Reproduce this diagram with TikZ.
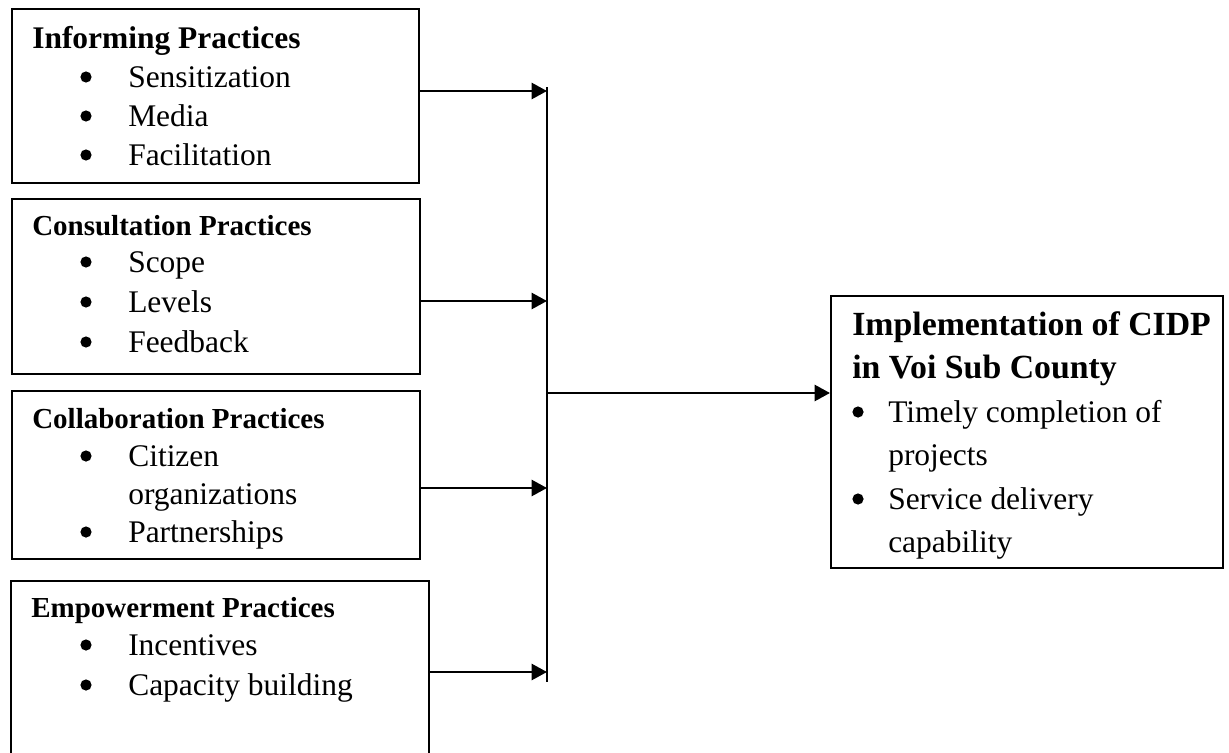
\documentclass[tikz,border=0pt]{standalone}
\usepackage{fontspec}
\setmainfont{Liberation Serif}
\usetikzlibrary{arrows.meta}
\begin{document}
\begin{tikzpicture}[x=0.75pt,y=-0.75pt,
  box/.style={draw,line width=1.5pt,rectangle,anchor=north west,inner sep=0pt},
  ttl/.style={anchor=base west,inner sep=0pt,font=\fontsize{21.75}{26}\selectfont\bfseries},
  bigttl/.style={anchor=base west,inner sep=0pt,font=\fontsize{23.6}{28}\selectfont\bfseries},
  itm/.style={anchor=base west,inner sep=0pt,font=\fontsize{23.6}{28}\selectfont},
  rttl/.style={anchor=base west,inner sep=0pt,font=\fontsize{25.35}{30}\selectfont\bfseries},
  dot/.style={circle,fill,inner sep=0pt,minimum size=8.4pt},
  conn/.style={line width=1.9pt,-{Triangle[length=11.5pt,width=12pt]}},
  bus/.style={line width=1.1pt}]
\useasboundingbox (0,0) rectangle (1229,753);
\fill[white] (0,0) rectangle (1229,753);
\begin{scope}
\clip (0,0) rectangle (1229,753);
% boxes
\node[box,minimum width=305.25pt,minimum height=130.5pt] (box1) at (11,8) {};
\node[box,minimum width=306pt,minimum height=131.25pt] (box2) at (11,198) {};
\node[box,minimum width=306pt,minimum height=126pt] (box3) at (11,390) {};
\node[box,minimum width=313.5pt,minimum height=150pt] (box4) at (10,580) {};
\node[box,minimum width=294pt,minimum height=204pt] (out) at (830,295) {};
% box 1
\node[bigttl] (t1) at (32,48) {Informing Practices};
\node[dot] (d11) at (86,77) {};
\node[itm] (i11) at (128,87) {Sensitization};
\node[dot] (d12) at (86,116) {};
\node[itm] (i12) at (128,126) {Media};
\node[dot] (d13) at (86,155) {};
\node[itm] (i13) at (128,165) {Facilitation};
% box 2
\node[ttl] (t2) at (32,235) {Consultation Practices};
\node[dot] (d21) at (86,262) {};
\node[itm] (i21) at (128,272) {Scope};
\node[dot] (d22) at (86,302) {};
\node[itm] (i22) at (128,312) {Levels};
\node[dot] (d23) at (86,342) {};
\node[itm] (i23) at (128,352) {Feedback};
% box 3
\node[ttl] (t3) at (32,428) {Collaboration Practices};
\node[dot] (d31) at (86,456) {};
\node[itm] (i31) at (128,466) {Citizen};
\node[itm] (i32) at (128,504) {organizations};
\node[dot] (d33) at (86,532) {};
\node[itm] (i33) at (128,542) {Partnerships};
% box 4
\node[ttl] (t4) at (31,617) {Empowerment Practices};
\node[dot] (d41) at (86,645) {};
\node[itm] (i41) at (128,655) {Incentives};
\node[dot] (d42) at (86,685) {};
\node[itm] (i42) at (128,695) {Capacity building};
% output box
\node[rttl] (o1) at (852,335) {Implementation of CIDP};
\node[rttl] (o2) at (852,378) {in Voi Sub County};
\node[dot] (od1) at (858,412) {};
\node[itm] (o3) at (888,422) {Timely completion of};
\node[itm] (o4) at (888,465) {projects};
\node[dot] (od2) at (858,499) {};
\node[itm] (o5) at (888,509) {Service delivery};
\node[itm] (o6) at (888,552) {capability};
% connectors
\coordinate (bustop) at (547,87);
\coordinate (busbot) at (547,682);
\coordinate (j1) at (547,91);
\coordinate (j2) at (547,301);
\coordinate (j3) at (547,488);
\coordinate (j4) at (547,672);
\coordinate (jm) at (547,393);
\draw[bus] (bustop) -- (busbot);
\draw[conn] (box1.east |- j1) -- (j1);
\draw[conn] (box2.east |- j2) -- (j2);
\draw[conn] (box3.east |- j3) -- (j3);
\draw[conn] (box4.east |- j4) -- (j4);
\draw[conn] (jm) -- (out.west |- jm);
\end{scope}
\end{tikzpicture}
\end{document}
